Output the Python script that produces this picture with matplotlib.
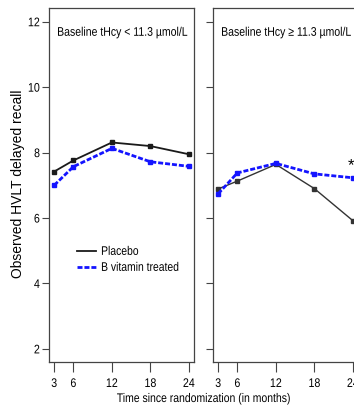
import matplotlib
matplotlib.use("Agg")
import matplotlib.pyplot as plt
from matplotlib.patheffects import AbstractPathEffect
from matplotlib.transforms import Affine2D

months = [3, 6, 12, 18, 24]

# Low baseline homocysteine group
low_placebo = [7.42, 7.76, 8.31, 8.20, 7.95]
low_vitamin = [7.00, 7.57, 8.13, 7.72, 7.58]

# High baseline homocysteine group
high_placebo = [6.89, 7.13, 7.64, 6.90, 5.92]
high_vitamin = [6.74, 7.38, 7.67, 7.35, 7.23]

err = 0.06
panel_titles = ["Baseline tHcy < 11.3 \u00b5mol/L", "Baseline tHcy \u2265 11.3 \u00b5mol/L"]
yticks = [2, 4, 6, 8, 10, 12]

plt.rcParams["font.family"] = ["Liberation Sans", "DejaVu Sans"]


class Squeeze(AbstractPathEffect):
    """Draw text narrower along its baseline, keeping one edge or the centre fixed."""

    def __init__(self, sx, anchor="center"):
        super().__init__()
        self.sx = sx
        self.anchor = anchor

    def draw_path(self, renderer, gc, tpath, affine, rgbFace=None):
        ext = tpath.get_extents()
        a = {"left": ext.x0, "right": ext.x1}.get(self.anchor, 0.5 * (ext.x0 + ext.x1))
        t = Affine2D().translate(-a, 0).scale(self.sx, 1).translate(a, 0) + affine
        renderer.draw_path(gc, tpath, t, rgbFace)


W, H = 354, 410
fig = plt.figure(figsize=(W / 100, H / 100), dpi=100)

blue = "#1414ff"
dash = (0, (1.8, 0.7))


def make_axes(left_px):
    return fig.add_axes([left_px / W, (H - 363) / H, 145 / W, (363 - 9) / H])


panels = [
    (make_axes(49), low_placebo, low_vitamin, "#1a1a1a", 1.3),
    (make_axes(213), high_placebo, high_vitamin, "#333333", 1.0),
]

for i, (ax, plac, vit, pcol, plw) in enumerate(panels):
    ax.plot(months, plac, color=pcol, lw=plw, label="Placebo", zorder=3)
    ax.errorbar(months, plac, yerr=err, color=pcol, ls="none", marker="s", ms=2.8,
                elinewidth=1.6, capsize=0, zorder=3)
    ax.plot(months, vit, color=blue, lw=2.0, ls=dash, label="B vitamin treated", zorder=4)
    ax.errorbar(months, vit, yerr=err, color=blue, ls="none", marker="s", ms=2.8,
                elinewidth=1.6, capsize=0, zorder=4)
    ax.set_xlim(2.2, 24.8)
    ax.set_ylim(1.6, 12.42)
    ax.set_xticks(months)
    ax.set_yticks(yticks)
    ax.tick_params(axis="x", direction="out", length=7, width=0.8, pad=4.5,
                   labelsize=9, color="#444444")
    ax.tick_params(axis="y", direction="out", length=5, width=0.8, pad=1.5,
                   labelsize=9, color="#444444")
    for s in ax.spines.values():
        s.set_color("#444444")
        s.set_linewidth(0.9)
    for tk in ax.xaxis.get_major_ticks():
        tk.label1.set_path_effects([Squeeze(0.85, "center")])
    for tk in ax.yaxis.get_major_ticks():
        tk.label1.set_path_effects([Squeeze(0.85, "right")])
    if i == 1:
        ax.tick_params(axis="y", labelleft=False)
        ax.text(23.7, 7.62, "*", ha="center", va="center", fontsize=12)
    ax.text(0.055, 0.93, panel_titles[i], transform=ax.transAxes,
            ha="left", va="center", fontsize=9,
            path_effects=[Squeeze(0.84, "left")])

leg = panels[0][0].legend(loc="upper left", bbox_to_anchor=(0.19, 0.328),
                          frameon=False, fontsize=9, handlelength=1.55,
                          handletextpad=0.4, labelspacing=0.32, borderpad=0,
                          borderaxespad=0)
for t in leg.get_texts():
    t.set_path_effects([Squeeze(0.83, "left")])

fig.text(18 / W, 1 - 184 / H, "Observed HVLT delayed recall", rotation=90,
         ha="center", va="center", fontsize=10)
fig.text(204 / W, 1 - 400 / H, "Time since randomization (in months)",
         ha="center", va="center", fontsize=9,
         path_effects=[Squeeze(0.835, "center")])

fig.savefig("out.png", dpi=100)
